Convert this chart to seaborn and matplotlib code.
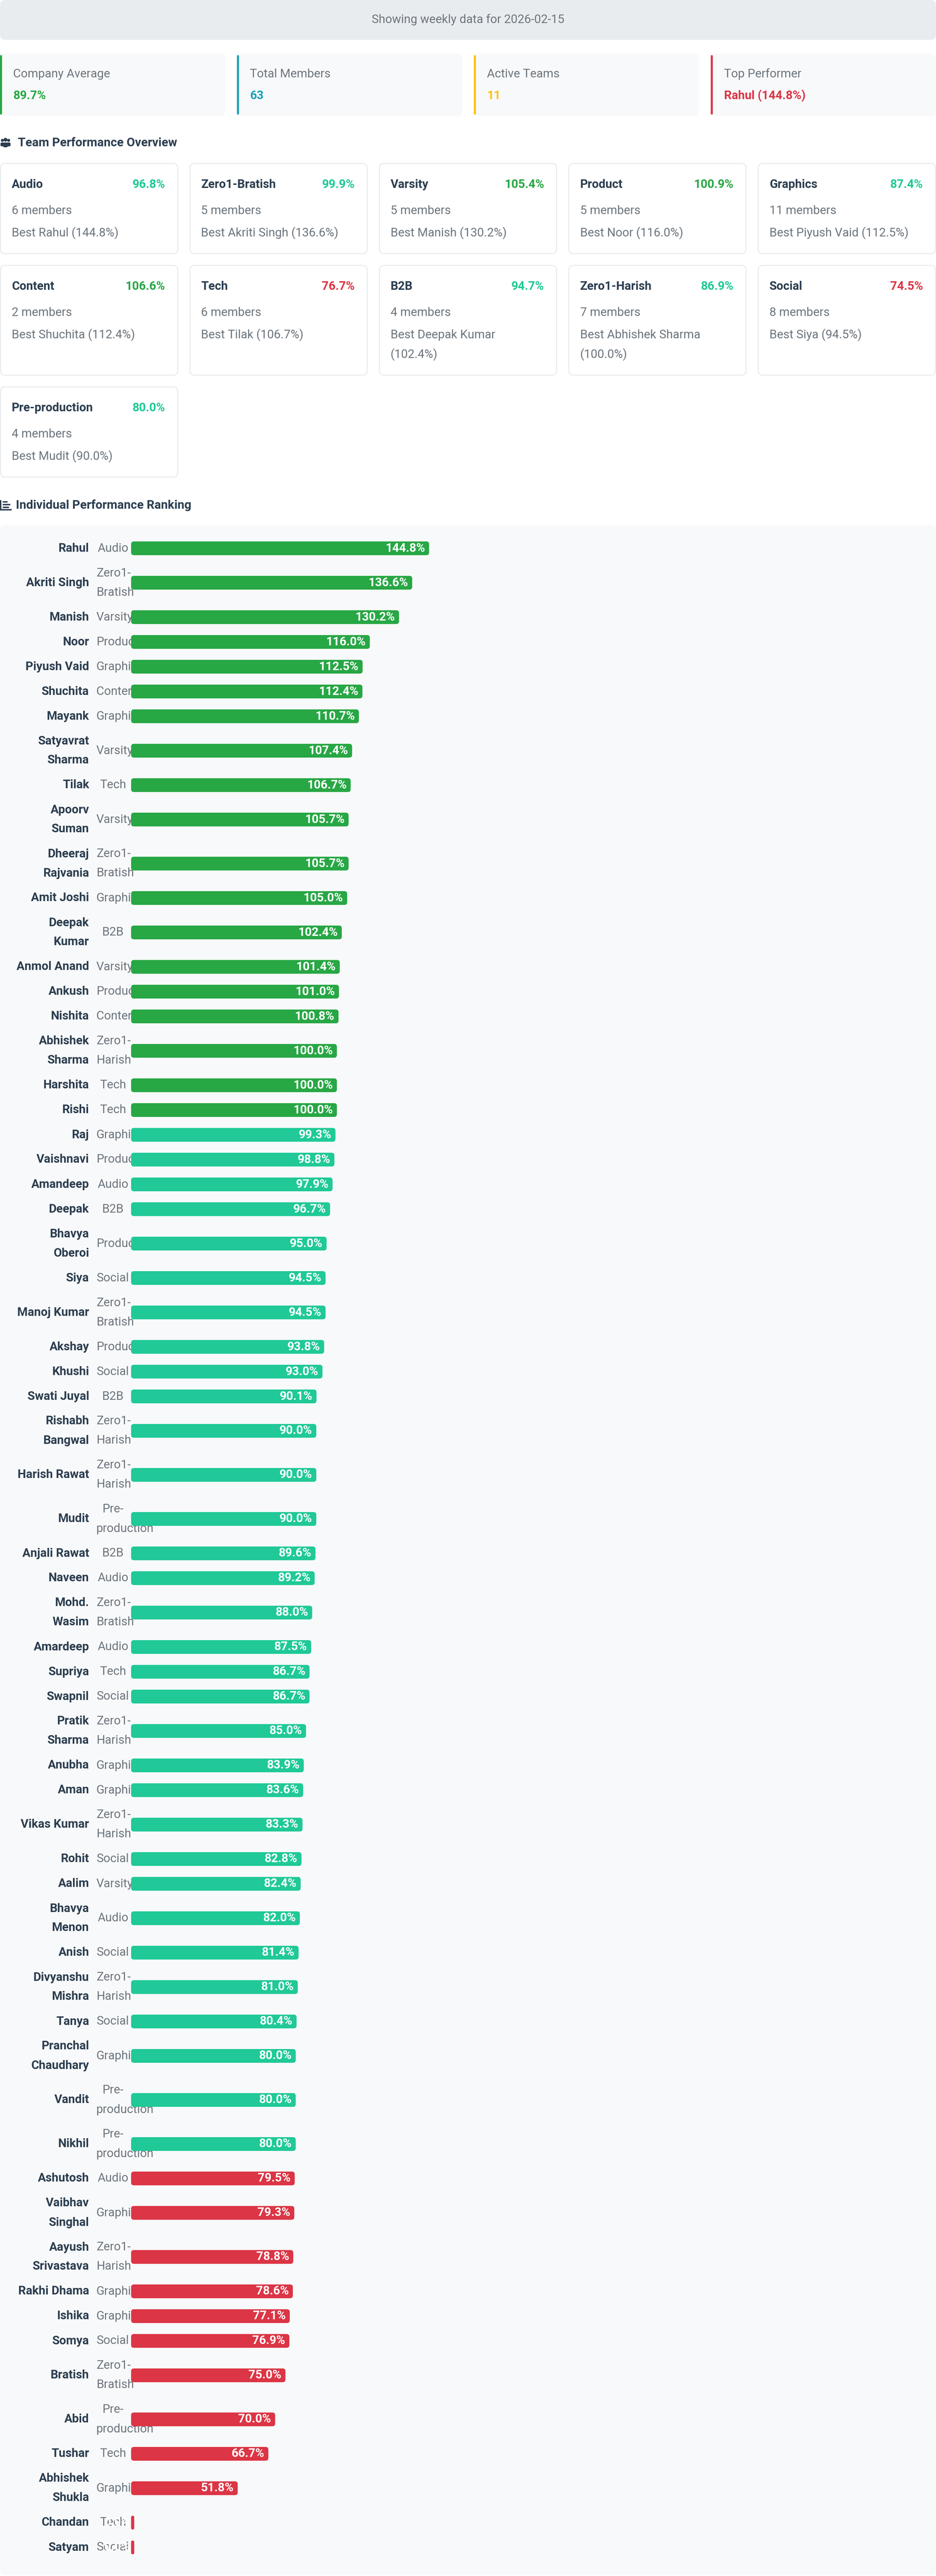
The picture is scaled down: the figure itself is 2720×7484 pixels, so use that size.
import numpy as np
import pandas as pd
import matplotlib
matplotlib.use("Agg")
import matplotlib.pyplot as plt
from matplotlib.patches import FancyBboxPatch, Rectangle, Circle
import seaborn as sns

# ---- data ----
report_date = "2026-02-15"

names = ["Rahul", "Akriti Singh", "Manish", "Noor", "Piyush Vaid", "Shuchita", "Mayank",
         "Satyavrat\nSharma", "Tilak", "Apoorv\nSuman", "Dheeraj\nRajvania", "Amit Joshi",
         "Deepak\nKumar", "Anmol Anand", "Ankush", "Nishita", "Abhishek\nSharma", "Harshita",
         "Rishi", "Raj", "Vaishnavi", "Amandeep", "Deepak", "Bhavya\nOberoi", "Siya",
         "Manoj Kumar", "Akshay", "Khushi", "Swati Juyal", "Rishabh\nBangwal", "Harish Rawat",
         "Mudit", "Anjali Rawat", "Naveen", "Mohd.\nWasim", "Amardeep", "Supriya", "Swapnil",
         "Pratik\nSharma", "Anubha", "Aman", "Vikas Kumar", "Rohit", "Aalim", "Bhavya\nMenon",
         "Anish", "Divyanshu\nMishra", "Tanya", "Pranchal\nChaudhary", "Vandit", "Nikhil",
         "Ashutosh", "Vaibhav\nSinghal", "Aayush\nSrivastava", "Rakhi Dhama", "Ishika", "Somya",
         "Bratish", "Abid", "Tushar", "Abhishek\nShukla", "Chandan", "Satyam"]

teams = ["Audio", "Zero1-Bratish", "Varsity", "Product", "Graphics", "Content", "Graphics",
         "Varsity", "Tech", "Varsity", "Zero1-Bratish", "Graphics",
         "B2B", "Varsity", "Product", "Content", "Zero1-Harish", "Tech",
         "Tech", "Graphics", "Product", "Audio", "B2B", "Product", "Social",
         "Zero1-Bratish", "Product", "Social", "B2B", "Zero1-Harish", "Zero1-Harish",
         "Pre-production", "B2B", "Audio", "Zero1-Bratish", "Audio", "Tech", "Social",
         "Zero1-Harish", "Graphics", "Graphics", "Zero1-Harish", "Social", "Varsity", "Audio",
         "Social", "Zero1-Harish", "Social", "Graphics", "Pre-production", "Pre-production",
         "Audio", "Graphics", "Zero1-Harish", "Graphics", "Graphics", "Social",
         "Zero1-Bratish", "Pre-production", "Tech", "Graphics", "Tech", "Social"]

scores = [144.8, 136.6, 130.2, 116.0, 112.5, 112.4, 110.7,
          107.4, 106.7, 105.7, 105.7, 105.0,
          102.4, 101.4, 101.0, 100.8, 100.0, 100.0,
          100.0, 99.3, 98.8, 97.9, 96.7, 95.0, 94.5,
          94.5, 93.8, 93.0, 90.1, 90.0, 90.0,
          90.0, 89.6, 89.2, 88.0, 87.5, 86.7, 86.7,
          85.0, 83.9, 83.6, 83.3, 82.8, 82.4, 82.0,
          81.4, 81.0, 80.4, 80.0, 80.0, 80.0,
          79.5, 79.3, 78.8, 78.6, 77.1, 76.9,
          75.0, 70.0, 66.7, 51.8, 0.0, 0.0]

team_order = ["Audio", "Zero1-Bratish", "Varsity", "Product", "Graphics", "Content",
              "Tech", "B2B", "Zero1-Harish", "Social", "Pre-production"]
team_avg = [96.8, 99.9, 105.4, 100.9, 87.4, 106.6, 76.7, 94.7, 86.9, 74.5, 80.0]
company_avg = 89.7

# ---- colours ----
GREEN, TEAL, RED = "#28a745", "#20c997", "#dc3545"
BLUE, YELLOW = "#17a2b8", "#ffc107"
DARK, GREY = "#2c3e50", "#6c757d"
band_colors = {"high": GREEN, "mid": TEAL, "low": RED}


def band(v):
    if v >= 100:
        return "high"
    if v >= 80:
        return "mid"
    return "low"


df = pd.DataFrame({"name": names, "team": teams, "score": scores})
df["plain"] = df["name"].str.replace("\n", " ")
df["band"] = df["score"].apply(band)

# figure in pixel units
W, H = 2720, 7484
FS = 25          # ~35 px text
sns.set_theme(style="white")
plt.rcParams["font.family"] = ["Roboto", "DejaVu Sans"]

fig = plt.figure(figsize=(W / 100, H / 100), dpi=100)
fig.patch.set_facecolor("white")
bg = fig.add_axes([0, 0, 1, 1])
bg.set_xlim(0, W)
bg.set_ylim(H, 0)
bg.axis("off")
renderer = fig.canvas.get_renderer()


def rbox(x, y, w, h, r, fc, ec="none", lw=0, z=1):
    bg.add_patch(FancyBboxPatch((x, y), w, h, boxstyle=f"round,pad=0,rounding_size={r}",
                                fc=fc, ec=ec, lw=lw, zorder=z))


def text_w(s, **kw):
    t = bg.text(0, 0, s, **kw)
    w = t.get_window_extent(renderer=renderer).width
    t.remove()
    return w


def wrap(s, limit, **kw):
    out, cur = [], ""
    for word in s.split():
        trial = (cur + " " + word).strip()
        if cur and text_w(trial, **kw) > limit:
            out.append(cur)
            cur = word
        else:
            cur = trial
    out.append(cur)
    return out


# ---- banner ----
rbox(0, 0, W, 116, 16, "#e9ecef")
bg.text(W / 2, 57, f"Showing weekly data for {report_date}", ha="center", va="center",
        fontsize=FS, color=GREY, zorder=3)

# ---- KPI cards ----
top = df.loc[df["score"].idxmax()]
kpis = [("Company Average", f"{company_avg:.1f}%", GREEN),
        ("Total Members", str(len(df)), BLUE),
        ("Active Teams", str(len(team_order)), YELLOW),
        ("Top Performer", f"{top['plain']} ({top['score']:.1f}%)", RED)]
kw_card = (W - 3 * 34) / 4
for i, (lab, val, col) in enumerate(kpis):
    x0 = i * (kw_card + 34)
    rbox(x0, 156, kw_card, 181, 14, "#f8f9fa")
    rbox(x0, 160, 6, 173, 3, col, z=2)
    bg.text(x0 + 38, 215, lab, ha="left", va="center", fontsize=FS, color=GREY, zorder=3)
    bg.text(x0 + 38, 278, val, ha="left", va="center", fontsize=FS, color=col,
            fontweight="bold", zorder=3)


# ---- section titles with small icons ----
def users_icon(x, y):
    for dx, s in [(5, 0.8), (23, 0.8), (14, 1.0)]:
        bg.add_patch(Circle((x + dx, y - 9 * s), 5.5 * s, fc=DARK, ec="none", zorder=3))
        rbox(x + dx - 7 * s, y - 1, 14 * s, 14 * s, 5 * s, DARK, z=3)


def ranking_icon(x, y):
    bg.add_patch(Rectangle((x, y - 15), 4, 30, fc=DARK, ec="none", zorder=3))
    bg.add_patch(Rectangle((x, y + 11), 34, 4, fc=DARK, ec="none", zorder=3))
    for dy, ln in [(-12, 14), (-4, 22), (4, 18)]:
        bg.add_patch(Rectangle((x + 8, y + dy), ln, 4, fc=DARK, ec="none", zorder=3))


users_icon(2, 415)
bg.text(52, 415, "Team Performance Overview", ha="left", va="center", fontsize=FS + 0.5,
        fontweight="bold", color=DARK)

# ---- team cards ----
cw, cg = 518, (W - 5 * 518) / 4
card_kw = dict(fontsize=FS, color=GREY)
cards = []
for t, avg in zip(team_order, team_avg):
    sub = df[df["team"] == t]
    best = sub.loc[sub["score"].idxmax()]
    lines = wrap(f"Best {best['plain']} ({best['score']:.1f}%)", cw - 72, **card_kw)
    cards.append((t, avg, len(sub), lines))

y_row = 475
for r0 in range(0, len(cards), 5):
    row = cards[r0:r0 + 5]
    extra = max(len(c[3]) for c in row) - 1
    ch = 262 + 57 * extra
    for j, (t, avg, n, lines) in enumerate(row):
        x0 = j * (cw + cg)
        rbox(x0 + 1.5, y_row, cw - 3, ch, 14, "white", ec="#e9ecef", lw=2.2)
        bg.text(x0 + 34, y_row + 61, t, ha="left", va="center", fontsize=FS,
                fontweight="bold", color=DARK, zorder=3)
        bg.text(x0 + cw - 38, y_row + 61, f"{avg:.1f}%", ha="right", va="center",
                fontsize=FS, fontweight="bold", color=band_colors[band(avg)], zorder=3)
        bg.text(x0 + 34, y_row + 137, f"{n} members", ha="left", va="center",
                zorder=3, **card_kw)
        for k, ln in enumerate(lines):
            bg.text(x0 + 34, y_row + 202 + 57 * k, ln, ha="left", va="center",
                    zorder=3, **card_kw)
    y_row += ch + 34

# ---- individual ranking ----
rank_title_y = y_row - 34 + 82
ranking_icon(0, rank_title_y)
bg.text(46, rank_title_y, "Individual Performance Ranking", ha="left", va="center",
        fontsize=FS + 0.5, fontweight="bold", color=DARK)

panel_top = rank_title_y + 58
rbox(0, panel_top, W, H - panel_top - 2, 16, "#f8f9fa", z=0)

LINE = 56
team_lines = df["team"].str.replace("-", "-\n")
n_lines = np.maximum(df["name"].str.count("\n"), team_lines.str.count("\n")) + 1
row_h = 16 + LINE * n_lines
df["y"] = np.cumsum(row_h) - row_h / 2
total_h = float(row_h.sum())
rows_top = panel_top + 31

BAR_X, BAR_W, PPP = 381, 2300, 5.98      # px per percent
ax = fig.add_axes([BAR_X / W, (H - rows_top - total_h) / H, BAR_W / W, total_h / H])
ax.set_zorder(2)
sns.barplot(data=df, x="score", y="y", hue="band", palette=band_colors, orient="h",
            native_scale=True, dodge=False, width=40 / 72, errorbar=None, saturation=1,
            legend=False, ax=ax)
ax.set_xlim(0, BAR_W / PPP)
ax.set_ylim(total_h, 0)
ax.set_facecolor("none")
ax.axis("off")

# swap the square seaborn bars for rounded ones
min_w = 9 / PPP
for p in list(ax.patches):
    x, y, w, h = p.get_x(), p.get_y(), p.get_width(), p.get_height()
    fc = p.get_facecolor()
    p.remove()
    w = max(w, min_w)
    r = min(8 / PPP, w / 2)
    ax.add_patch(FancyBboxPatch((x, y), w, h, boxstyle=f"round,pad=0,rounding_size={r}",
                                mutation_aspect=PPP, fc=fc, ec="none", zorder=2))

for _, row in df.iterrows():
    end = max(row["score"], min_w)
    ax.text(end - 12 / PPP, row["y"], f"{row['score']:.1f}%", ha="right", va="center",
            fontsize=FS, fontweight="bold", color="white", zorder=4)

# names and team tags sit left of the bars (tags run under the bars)
TEAM_L, TEAM_R = 280, 376
team_kw = dict(fontsize=FS, color=GREY)
for i, row in df.iterrows():
    yc = rows_top + row["y"]
    nl = row["name"].split("\n")
    for k, ln in enumerate(nl):
        bg.text(259, yc + (k - (len(nl) - 1) / 2) * LINE, ln, ha="right", va="center",
                fontsize=FS, fontweight="bold", color=DARK, zorder=3)
    tl = team_lines[i].split("\n")
    for k, ln in enumerate(tl):
        yy = yc + (k - (len(tl) - 1) / 2) * LINE
        if text_w(ln, **team_kw) > TEAM_R - TEAM_L:
            bg.text(TEAM_L, yy, ln, ha="left", va="center", zorder=1.5, **team_kw)
        else:
            bg.text((TEAM_L + TEAM_R) / 2, yy, ln, ha="center", va="center", zorder=1.5,
                    **team_kw)

fig.savefig("out.png", dpi=100, facecolor="white")
